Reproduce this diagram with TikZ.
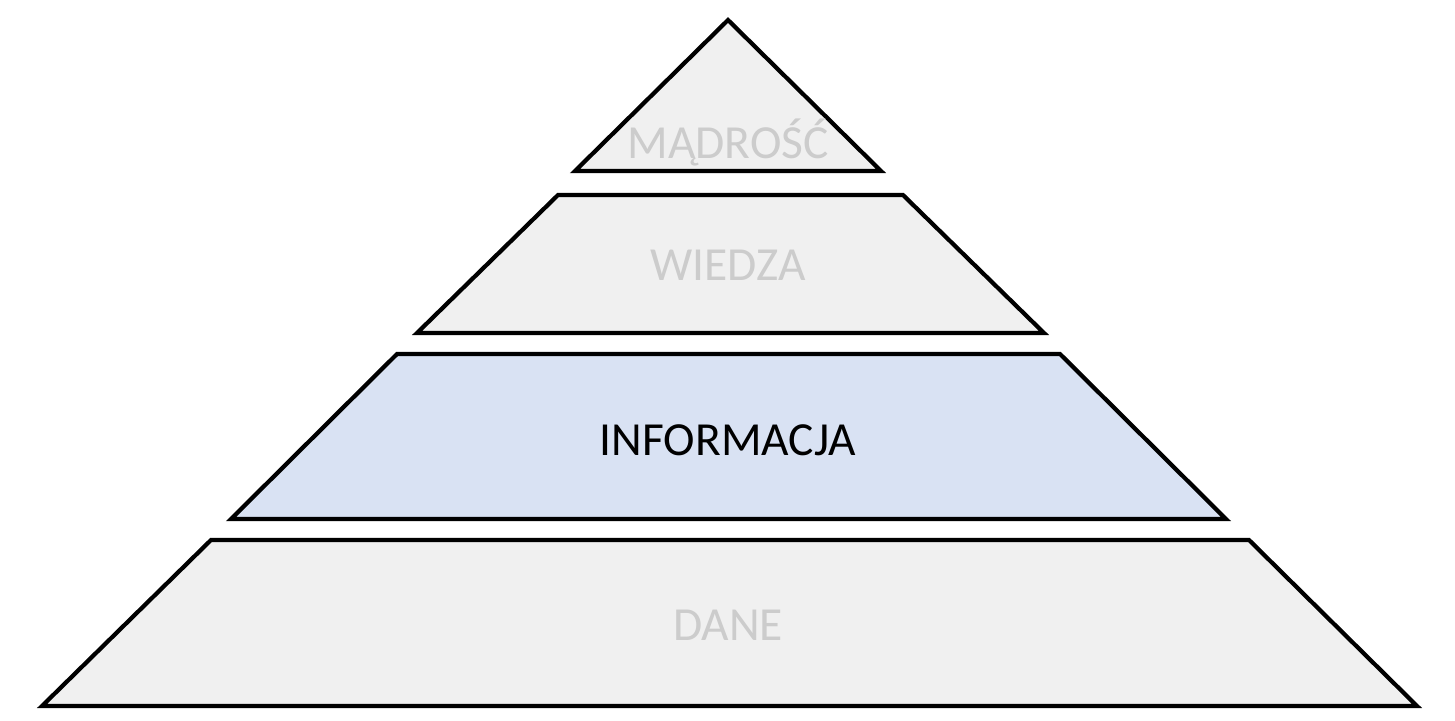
\documentclass[tikz,border=0pt]{standalone}
\usepackage{fontspec}
\setmainfont{Carlito}
\begin{document}
\begin{tikzpicture}[x=0.01cm,y=-0.01cm,
  layer/.style={draw=black,line width=1.2pt,line join=miter,fill=gray!12},
  lbl/.style={font=\fontsize{13.5}{16}\selectfont,text=black!20}]
\useasboundingbox (0,0) rectangle (1455,720);
\fill[white] (0,0) rectangle (1455,720);
\path[layer] (728,20) -- (881,171) -- (575,171) -- cycle;
\path[layer] (558,195) -- (903,195) -- (1044,333) -- (417,333) -- cycle;
\path[layer,fill={rgb,255:red,217;green,226;blue,243}] (397,354) -- (1060,354) -- (1226,519) -- (231,519) -- cycle;
\path[layer] (211,540) -- (1249,540) -- (1417,706) -- (42,706) -- cycle;
\node[lbl] (m) at (728,142) {MĄDROŚĆ};
\node[lbl] (w) at (728,265) {WIEDZA};
\node[lbl,text=black] (i) at (728,440) {INFORMACJA};
\node[lbl] (d) at (728,625) {DANE};
\end{tikzpicture}
\end{document}
